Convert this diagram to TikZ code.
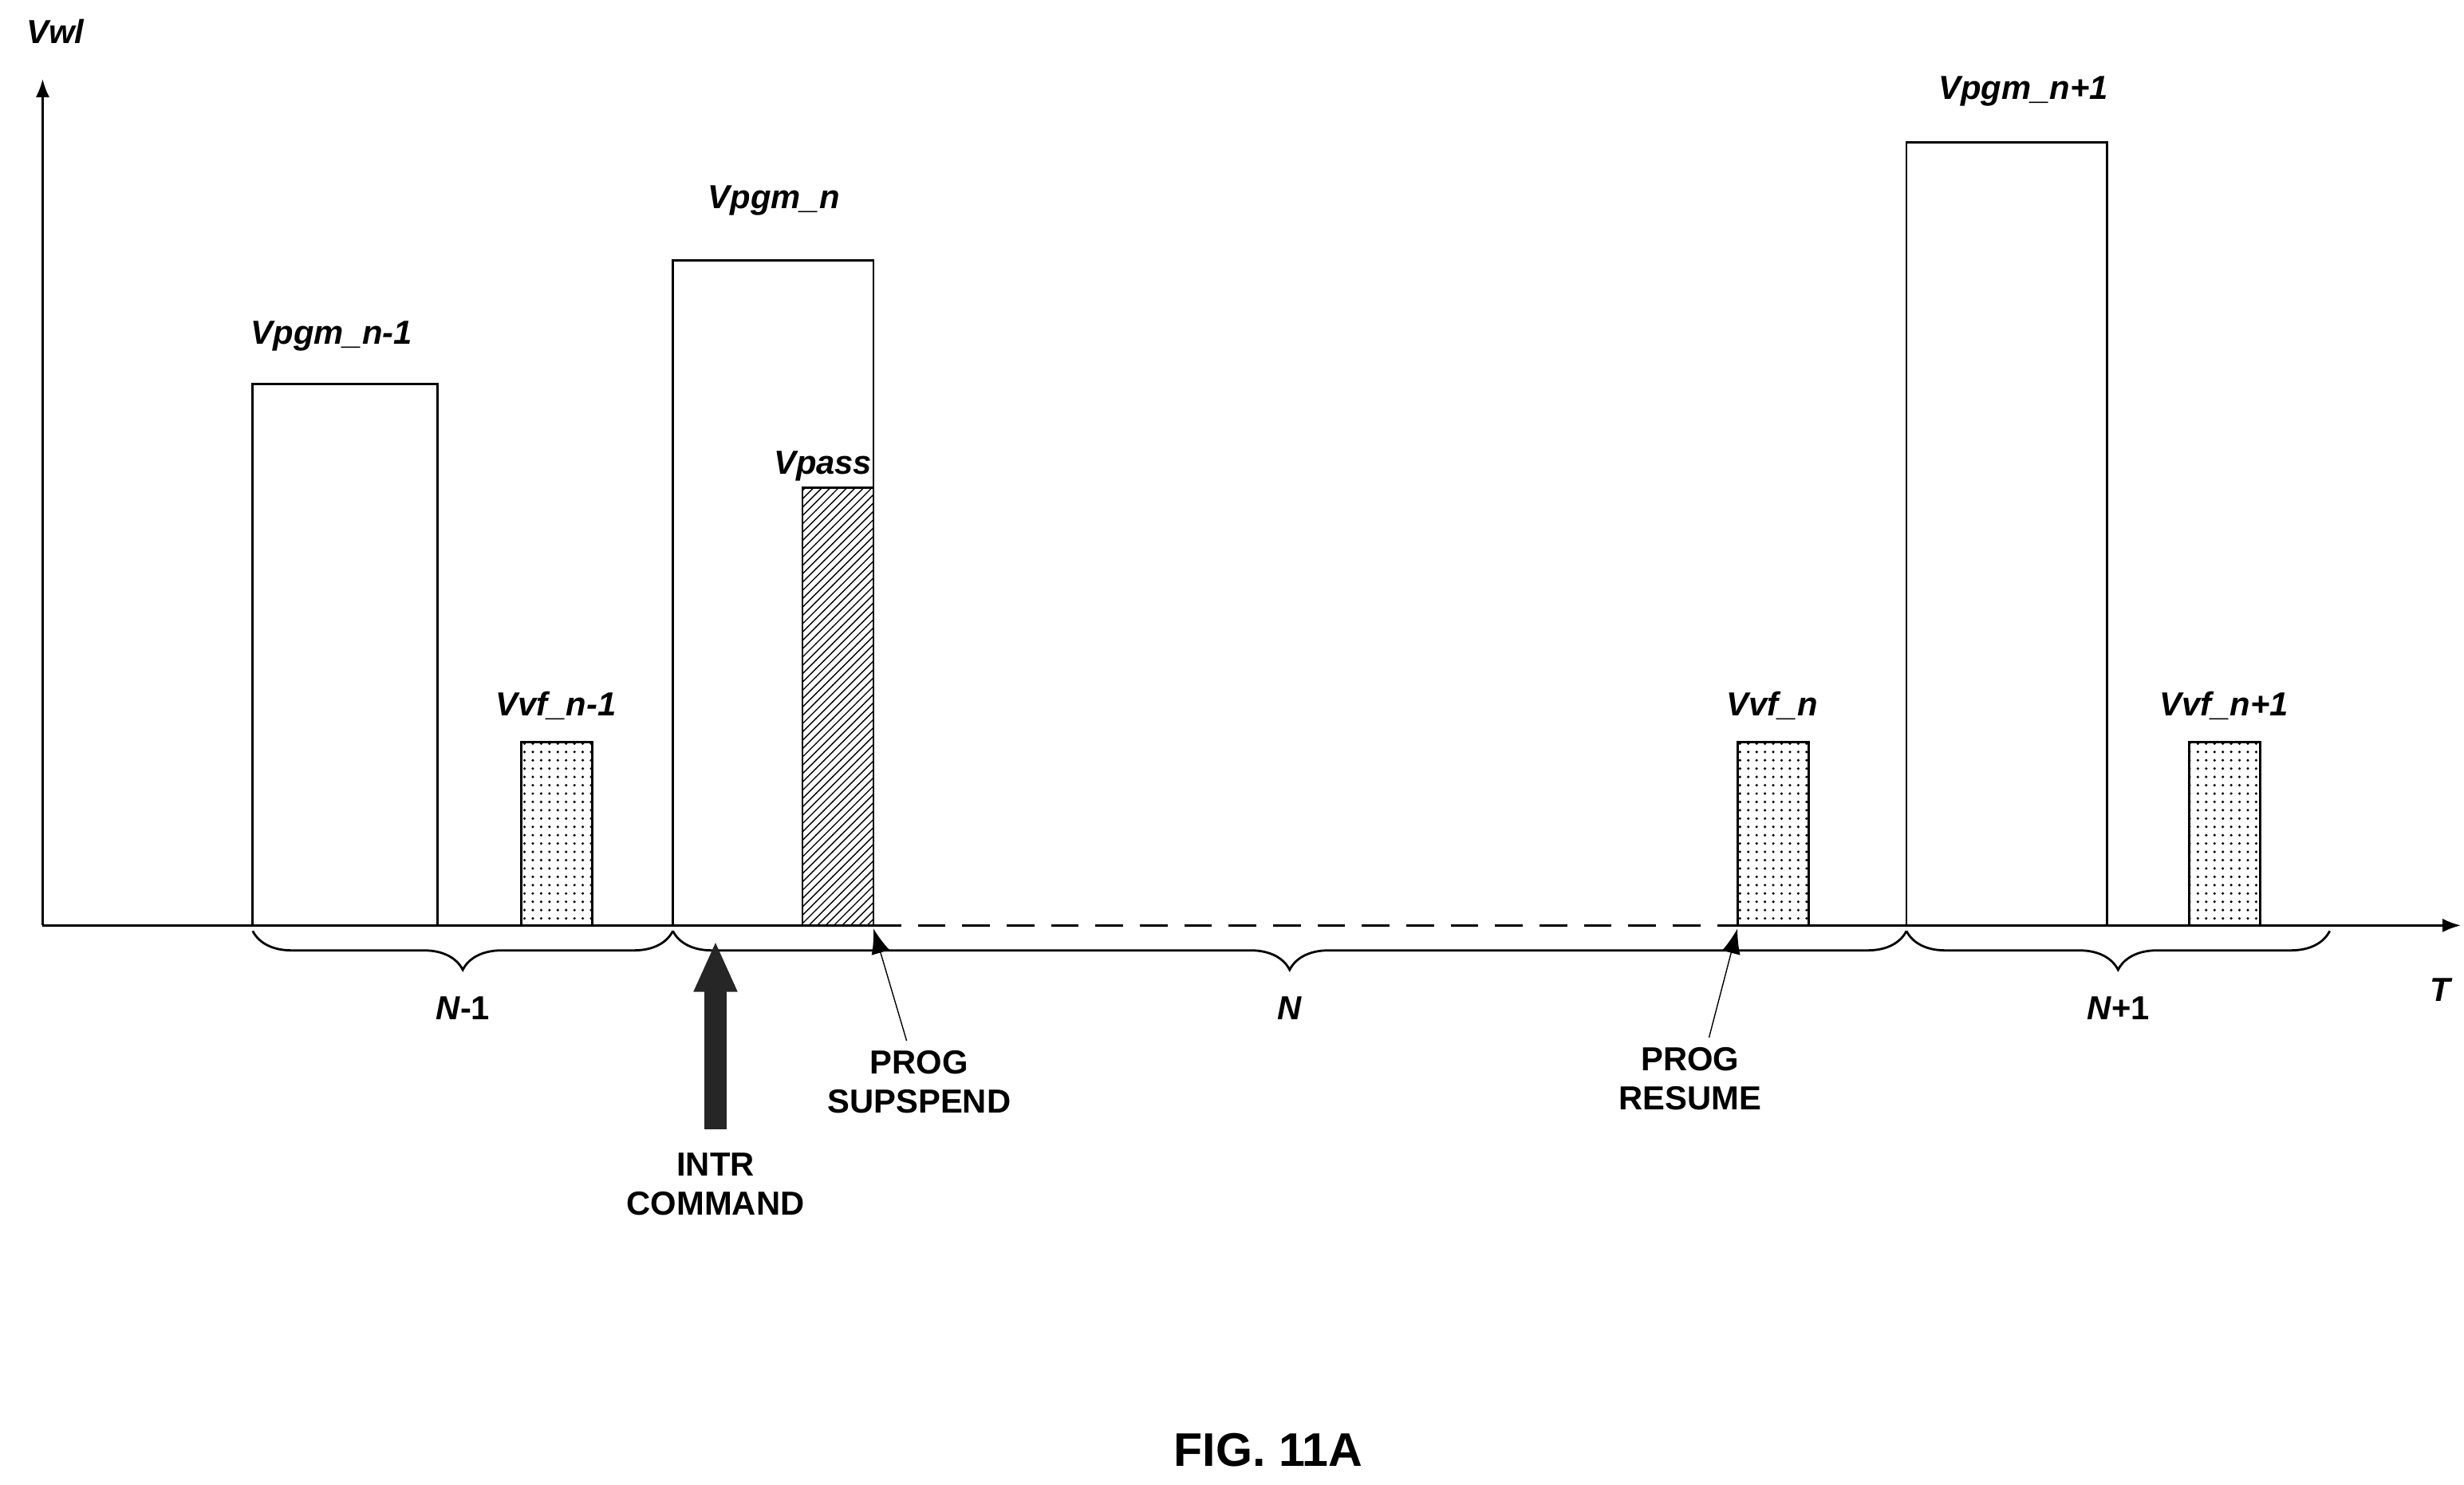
\documentclass[tikz,border=0pt]{standalone}
\usepackage{fontspec}
\setmainfont{Liberation Sans}
\usetikzlibrary{patterns,decorations.pathreplacing,arrows.meta}
\tikzset{
  lbl/.style = {font=\fontsize{12}{14}\selectfont\itshape\bfseries},
  evtxt/.style = {font=\fontsize{12}{14}\selectfont\bfseries, align=center},
  pulse/.style = {draw, thick, fill=white},
  brc/.style = {decorate, decoration={brace, mirror, amplitude=14pt, raise=2pt}, thick}
}
\begin{document}
\begin{tikzpicture}[x=0.02cm, y=-0.02cm]
  \useasboundingbox (0,0) rectangle (1560,940);
  \def\base{586}
  % axes
  \draw[-Latex, thick] (27,\base) -- (27,50);
  \draw[thick] (27,\base) -- (553,\base);
  \draw[thick, dash pattern=on 10pt off 6pt] (553,\base) -- (1100,\base);
  \draw[-Latex, thick] (1100,\base) -- (1558,\base);
  \node[lbl] (vwl) at (35,20) {Vwl};
  \node[lbl] (t) at (1545,627) {T};
  % program pulses
  \draw[pulse] (160,\base) rectangle (277,243);
  \node[lbl] (pgm1) at (210,213) {Vpgm\_n-1};
  \draw[pulse] (426,\base) rectangle (553,165);
  \node[lbl] (pgm2) at (490,127) {Vpgm\_n};
  \draw[pulse] (1207,\base) rectangle (1334,90);
  \node[lbl] (pgm3) at (1281,58) {Vpgm\_n+1};
  % pass pulse
  \draw[thick, pattern=north east lines] (508,\base) rectangle (553,309);
  \node[lbl] (pass) at (521,295) {Vpass};
  % verify pulses
  \foreach \x/\t in {330/n-1, 1100/n, 1386/n+1}{
    \draw[thick, pattern=dots] (\x,\base) rectangle (\x+45,470);
    \node[lbl] at (\x+22,447) {Vvf\_\t};
  }
  % loops
  \coordinate (l0) at (160,\base);
  \coordinate (l1) at (426,\base);
  \coordinate (l2) at (1207,\base);
  \coordinate (l3) at (1475,\base);
  \draw[brc] (l0) -- (l1) node[midway, below=22pt, lbl] (nm) {\textit{N}\textup{-1}};
  \draw[brc] (l1) -- (l2) node[midway, below=22pt, lbl] (n) {N};
  \draw[brc] (l2) -- (l3) node[midway, below=22pt, lbl] (np) {\textit{N}\textup{+1}};
  % events
  \node[evtxt] (intr) at (453,750) {INTR\\COMMAND};
  \coordinate (intrtip) at (453,597);
  \fill[black!85] (446,715) -- (446,628) -- (439,628) -- (intrtip) -- (467,628) -- (460,628) -- (460,715) -- cycle;
  \node[evtxt] (susp) at (582,685) {PROG\\SUPSPEND};
  \coordinate (susptip) at (553,588);
  \draw[-{Latex[length=9pt]}] (susp.north) ++(-8,0) -- (susptip);
  \node[evtxt] (res) at (1070,683) {PROG\\RESUME};
  \coordinate (restip) at (1100,588);
  \draw[-{Latex[length=9pt]}] (res.north) ++(12,0) -- (restip);
  \node[font=\fontsize{17}{20}\selectfont\bfseries] (fig) at (803,918) {FIG. 11A};
\end{tikzpicture}
\end{document}
